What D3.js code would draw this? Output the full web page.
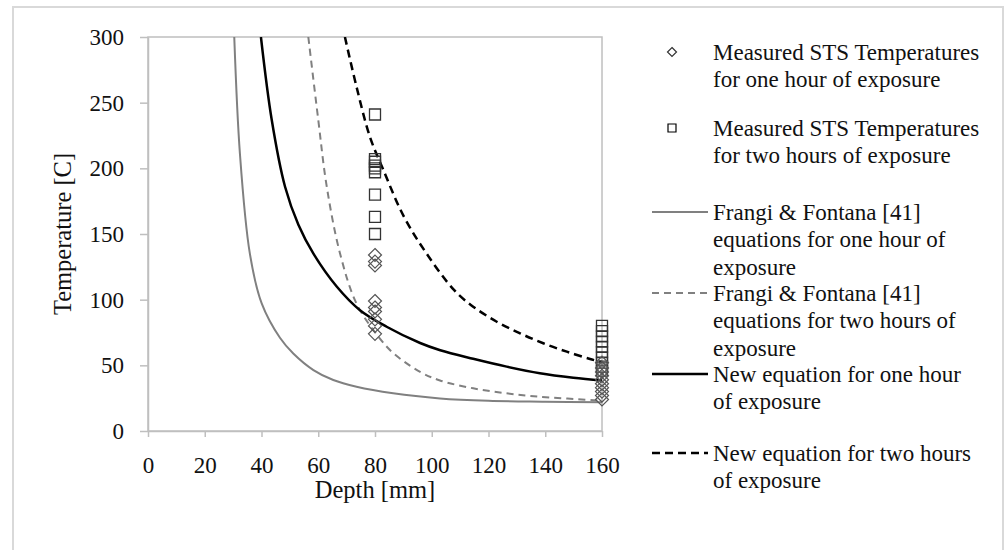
<!DOCTYPE html>
<html>
<head>
<meta charset="utf-8">
<script src="https://cdn.jsdelivr.net/npm/d3@7/dist/d3.min.js"></script>
<style>
  html, body { margin: 0; padding: 0; background: #fff; }
  svg { display: block; }
  text { font-family: "Liberation Serif", "DejaVu Serif", serif; fill: #111; }
</style>
</head>
<body>
<svg id="chart" width="1005" height="550"></svg>
<script>
// Axis ticks
const xTicks = [0, 20, 40, 60, 80, 100, 120, 140, 160];
const yTicks = [0, 50, 100, 150, 200, 250, 300];

// Measured STS temperatures: [depth mm, temperature C]
const measuredOneHour = [
  [80, 134], [80, 129], [80, 126], [80, 99], [80, 94], [80, 91], [80, 85], [80, 80], [80, 74],
  [160, 52], [160, 48], [160, 45], [160, 42], [160, 39], [160, 36], [160, 33], [160, 30], [160, 27], [160, 24]
];
const measuredTwoHours = [
  [80, 241], [80, 207], [80, 205], [80, 202], [80, 200], [80, 197], [80, 180], [80, 163], [80, 150],
  [160, 80], [160, 76], [160, 72], [160, 68], [160, 64], [160, 60], [160, 56], [160, 52], [160, 49], [160, 46]
];

// Predicted temperature profiles: [depth mm, temperature C]
const frangiOneHour = [
  [30.4, 300], [32.4, 211], [35.9, 135], [40.1, 97], [46.5, 71], [51.2, 59], [58.3, 46.4],
  [65.3, 38.8], [73.5, 33.7], [86.4, 28.7], [102.9, 24.8], [120, 23.0], [140, 22.3], [160, 21.8]
];
const frangiTwoHours = [
  [56.5, 300], [60, 237], [63, 186], [67.7, 135], [73.5, 97], [81.2, 71.8], [86.5, 59.2],
  [95.9, 45], [102.9, 38.5], [114.6, 32.5], [126.4, 28.7], [138.1, 26.1], [160, 23.1]
];
const newOneHour = [
  [39.8, 300], [43.6, 237], [48.3, 186], [53, 157], [58.3, 135], [66.5, 110], [74.7, 92], [84.1, 79.4],
  [95.9, 67], [103, 61.5], [114.6, 55], [126.4, 49], [138.1, 44], [149.9, 40.6], [160, 38.5]
];
const newTwoHours = [
  [69.4, 300], [73.5, 262], [78.2, 224], [82.9, 199], [90, 164], [98.2, 135], [108, 107],
  [114.6, 94.7], [122.9, 83.2], [131.1, 74.4], [139.3, 66.8], [147.6, 60.4], [155.8, 54.8], [160, 52.5]
];

const legendItems = [
  { type: "diamond", lines: ["Measured STS Temperatures", "for one hour of exposure"] },
  { type: "square", lines: ["Measured STS Temperatures", "for two hours of exposure"] },
  { type: "line", color: "#808080", width: 2, dash: null, lines: ["Frangi & Fontana [41]", "equations for one hour of", "exposure"] },
  { type: "line", color: "#808080", width: 2, dash: "7,5", lines: ["Frangi & Fontana [41]", "equations for two hours of", "exposure"] },
  { type: "line", color: "#000", width: 2.5, dash: null, lines: ["New equation for one hour", "of exposure"] },
  { type: "line", color: "#000", width: 2.5, dash: "8,5", lines: ["New equation for two hours", "of exposure"] }
];

const svg = d3.select("#chart");
const plot = { left: 148, top: 37, right: 602, bottom: 431 };
const tickFont = 23;
const legendFont = 23;
const titleFont = 24.5;
const axisColor = "#bfbfbf";

// Outer chart frame
svg.append("rect")
  .attr("x", 13).attr("y", 7)
  .attr("width", 990).attr("height", 560)
  .attr("fill", "none").attr("stroke", "#d9d9d9").attr("stroke-width", 2);

const x = d3.scaleLinear().domain([0, 160]).range([plot.left, plot.right]);
const y = d3.scaleLinear().domain([0, 300]).range([plot.bottom, plot.top]);

// Plot area border
svg.append("rect")
  .attr("x", plot.left).attr("y", plot.top)
  .attr("width", plot.right - plot.left).attr("height", plot.bottom - plot.top)
  .attr("fill", "none").attr("stroke", axisColor).attr("stroke-width", 1.5);

// Axes
const xAxis = svg.append("g")
  .attr("transform", `translate(0,${plot.bottom})`)
  .call(d3.axisBottom(x).tickValues(xTicks).tickSize(6).tickPadding(20).tickSizeOuter(0));
const yAxis = svg.append("g")
  .attr("transform", `translate(${plot.left},0)`)
  .call(d3.axisLeft(y).tickValues(yTicks).tickSize(8).tickPadding(16).tickSizeOuter(0));

[xAxis, yAxis].forEach(g => {
  g.select(".domain").attr("stroke", axisColor).attr("stroke-width", 1.5);
  g.selectAll(".tick line").attr("stroke", axisColor).attr("stroke-width", 1.5);
  g.selectAll(".tick text")
    .attr("fill", "#111")
    .style("font-family", "'Liberation Serif', 'DejaVu Serif', serif")
    .style("font-size", tickFont + "px");
});

// Axis titles
svg.append("text")
  .attr("x", (plot.left + plot.right) / 2).attr("y", 498)
  .attr("text-anchor", "middle")
  .style("font-size", titleFont + "px")
  .text("Depth [mm]");
svg.append("text")
  .attr("transform", `translate(71,${(plot.top + plot.bottom) / 2}) rotate(-90)`)
  .attr("text-anchor", "middle")
  .style("font-size", titleFont + "px")
  .text("Temperature [C]");

// Clip curves to plot area
svg.append("clipPath").attr("id", "plot-clip")
  .append("rect")
  .attr("x", plot.left).attr("y", plot.top)
  .attr("width", plot.right - plot.left).attr("height", plot.bottom - plot.top);

const line = d3.line()
  .x(d => x(d[0]))
  .y(d => y(d[1]))
  .curve(d3.curveCatmullRom.alpha(0.5));

const curves = svg.append("g").attr("clip-path", "url(#plot-clip)");
const series = [
  { data: frangiOneHour, color: "#808080", width: 2, dash: null },
  { data: frangiTwoHours, color: "#808080", width: 2, dash: "7,5" },
  { data: newOneHour, color: "#000", width: 2.5, dash: null },
  { data: newTwoHours, color: "#000", width: 2.5, dash: "8,5" }
];
series.forEach(s => {
  curves.append("path")
    .datum(s.data)
    .attr("d", line)
    .attr("fill", "none")
    .attr("stroke", s.color)
    .attr("stroke-width", s.width)
    .attr("stroke-dasharray", s.dash);
});

// Marker shapes
const diamondPath = r => `M0,${-r}L${r},0L0,${r}L${-r},0Z`;
const squarePath = r => `M${-r},${-r}H${r}V${r}H${-r}Z`;

const markers = svg.append("g");
markers.selectAll("path.sq")
  .data(measuredTwoHours)
  .join("path")
  .attr("class", "sq")
  .attr("transform", d => `translate(${x(d[0])},${y(d[1])})`)
  .attr("d", squarePath(5.5))
  .attr("fill", "none")
  .attr("stroke", "#333")
  .attr("stroke-width", 1.3);
markers.selectAll("path.dm")
  .data(measuredOneHour)
  .join("path")
  .attr("class", "dm")
  .attr("transform", d => `translate(${x(d[0])},${y(d[1])})`)
  .attr("d", diamondPath(6.5))
  .attr("fill", "none")
  .attr("stroke", "#555")
  .attr("stroke-width", 1.2);

// Legend
const legendRows = [52, 128, 212, 293, 374, 453];
const lineGap = 27.5;
const legend = svg.append("g");
legendItems.forEach((item, i) => {
  const cy = legendRows[i];
  if (item.type === "diamond") {
    legend.append("path")
      .attr("transform", `translate(672,${cy})`)
      .attr("d", diamondPath(4.5))
      .attr("fill", "none").attr("stroke", "#333").attr("stroke-width", 1.2);
  } else if (item.type === "square") {
    legend.append("path")
      .attr("transform", `translate(672,${cy})`)
      .attr("d", squarePath(4))
      .attr("fill", "none").attr("stroke", "#000").attr("stroke-width", 1.2);
  } else {
    legend.append("line")
      .attr("x1", 652).attr("x2", 708)
      .attr("y1", cy).attr("y2", cy)
      .attr("stroke", item.color)
      .attr("stroke-width", item.width)
      .attr("stroke-dasharray", item.dash);
  }
  item.lines.forEach((t, k) => {
    legend.append("text")
      .attr("x", 713)
      .attr("y", cy + k * lineGap + 7.5)
      .style("font-size", legendFont + "px")
      .text(t);
  });
});
</script>
</body>
</html>
